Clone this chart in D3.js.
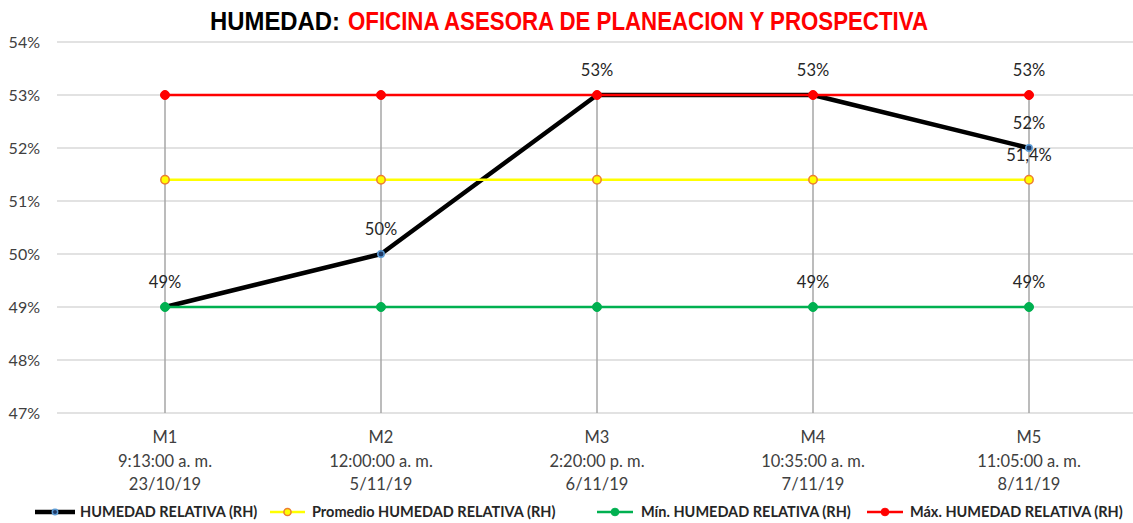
<!DOCTYPE html>
<html><head><meta charset="utf-8">
<script src="https://cdn.jsdelivr.net/npm/d3@7"></script>
<style>body{margin:0;background:#fff}svg{display:block}text{font-family:Lato,"Open Sans",sans-serif}</style>
</head><body><svg id="c" width="1133" height="523"></svg>
<script>
const categories = ["M1","M2","M3","M4","M5"];
const times = ["9:13:00 a. m.","12:00:00 a. m.","2:20:00 p. m.","10:35:00 a. m.","11:05:00 a. m."];
const dates = ["23/10/19","5/11/19","6/11/19","7/11/19","8/11/19"];
const hr = [49,50,53,53,52];
const avg = [51.4,51.4,51.4,51.4,51.4];
const minV = [49,49,49,49,49];
const maxV = [53,53,53,53,53];
const yTicks = [47,48,49,50,51,52,53,54];
const seriesNames = ["HUMEDAD RELATIVA (RH)","Promedio HUMEDAD RELATIVA (RH)","Mín. HUMEDAD RELATIVA (RH)","Máx. HUMEDAD RELATIVA (RH)"];

const svg = d3.select("#c");
const x = d3.scaleBand().domain(categories).range([57,1137]);
const cx = c => x(c) + x.bandwidth()/2;
const y = d3.scaleLinear().domain([47,54]).range([413,42]);

// title
const titleFont = "'Liberation Sans Narrow','Liberation Sans',sans-serif";
svg.append("text").attr("x",210).attr("y",30)
  .attr("textLength",130).attr("lengthAdjust","spacingAndGlyphs")
  .style("font-family",titleFont).style("font-weight","bold").style("font-size","26px")
  .attr("fill","#000").text("HUMEDAD:");
svg.append("text").attr("x",348).attr("y",30)
  .attr("textLength",580).attr("lengthAdjust","spacingAndGlyphs")
  .style("font-family",titleFont).style("font-weight","bold").style("font-size","26px")
  .attr("fill","#ff0000").text("OFICINA ASESORA DE PLANEACION Y PROSPECTIVA");

// gridlines
svg.append("g").selectAll("line").data(yTicks).join("line")
  .attr("x1",57).attr("x2",1133).attr("y1",d=>y(d)).attr("y2",d=>y(d))
  .attr("stroke","#d9d9d9").attr("stroke-width",1.5);

// y labels
svg.append("g").selectAll("text").data(yTicks).join("text")
  .attr("x",40).attr("y",d=>y(d)+5.5).attr("text-anchor","end")
  .style("font-size","16px").attr("fill","#404040").text(d=>d+"%");

// drop lines
svg.append("g").selectAll("line").data(categories).join("line")
  .attr("x1",d=>cx(d)).attr("x2",d=>cx(d))
  .attr("y1",(d,i)=>y(Math.max(hr[i],avg[i],minV[i],maxV[i]))).attr("y2",y(47))
  .attr("stroke","#a6a6a6").attr("stroke-width",1.5);

// x labels
const xl = svg.append("g").selectAll("text").data(categories).join("text")
  .attr("text-anchor","middle").style("font-size","16.5px").attr("fill","#404040");
xl.append("tspan").attr("x",d=>cx(d)).attr("y",443).text(d=>d);
xl.append("tspan").attr("x",d=>cx(d)).attr("y",467).text((d,i)=>times[i]);
xl.append("tspan").attr("x",d=>cx(d)).attr("y",490).text((d,i)=>dates[i]);

const line = d3.line().x((d,i)=>cx(categories[i])).y(d=>y(d));
const series = [
  {vals:hr, color:"#000", w:4.5, r:3.2, mfill:"#1f3864", mstroke:"#5b9bd5", msw:1.5},
  {vals:avg, color:"#ffff00", w:2.5, r:4.2, mfill:"#ffff00", mstroke:"#ed7d31", msw:1.5},
  {vals:minV, color:"#00b050", w:2.5, r:4.5, mfill:"#00b050", mstroke:"#00b050", msw:1},
  {vals:maxV, color:"#ff0000", w:2.5, r:4.5, mfill:"#ff0000", mstroke:"#ff0000", msw:1}
];
series.forEach(s=>{
  svg.append("path").datum(s.vals).attr("d",line).attr("fill","none")
    .attr("stroke",s.color).attr("stroke-width",s.w).attr("stroke-linejoin","round");
  svg.append("g").selectAll("circle").data(s.vals).join("circle")
    .attr("cx",(d,i)=>cx(categories[i])).attr("cy",d=>y(d)).attr("r",s.r)
    .attr("fill",s.mfill).attr("stroke",s.mstroke).attr("stroke-width",s.msw);
});

// data labels
const fmt = v => (Number.isInteger(v)? v : v.toFixed(1).replace(".",",")) + "%";
const labels = [];
hr.forEach((v,i)=>labels.push({i,v}));
labels.push({i:4,v:avg[4]});
labels.push({i:3,v:minV[3]},{i:4,v:minV[4]});
labels.push({i:4,v:maxV[4]});
svg.append("g").selectAll("text").data(labels).join("text")
  .attr("x",d=>cx(categories[d.i])).attr("y",d=>y(d.v)-19).attr("text-anchor","middle")
  .style("font-size","16.5px").attr("fill","#262626").text(d=>fmt(d.v));

// legend
const leg = [
  {x1:35,x2:75,tx:80,s:series[0]},
  {x1:270,x2:305,tx:312,s:series[1]},
  {x1:597,x2:633,tx:641,s:series[2]},
  {x1:867,x2:903,tx:910,s:series[3]}
];
leg.forEach((l,k)=>{
  const g = svg.append("g");
  g.append("line").attr("x1",l.x1).attr("x2",l.x2).attr("y1",512).attr("y2",512)
    .attr("stroke",l.s.color).attr("stroke-width",l.s.w);
  g.append("circle").attr("cx",(l.x1+l.x2)/2).attr("cy",512).attr("r",l.s.r*0.85)
    .attr("fill",l.s.mfill).attr("stroke",l.s.mstroke).attr("stroke-width",l.s.msw);
  g.append("text").attr("x",l.tx).attr("y",517).style("font-size","14.5px").style("font-weight","bold")
    .attr("fill","#262626").text(seriesNames[k]);
});
</script></body></html>
